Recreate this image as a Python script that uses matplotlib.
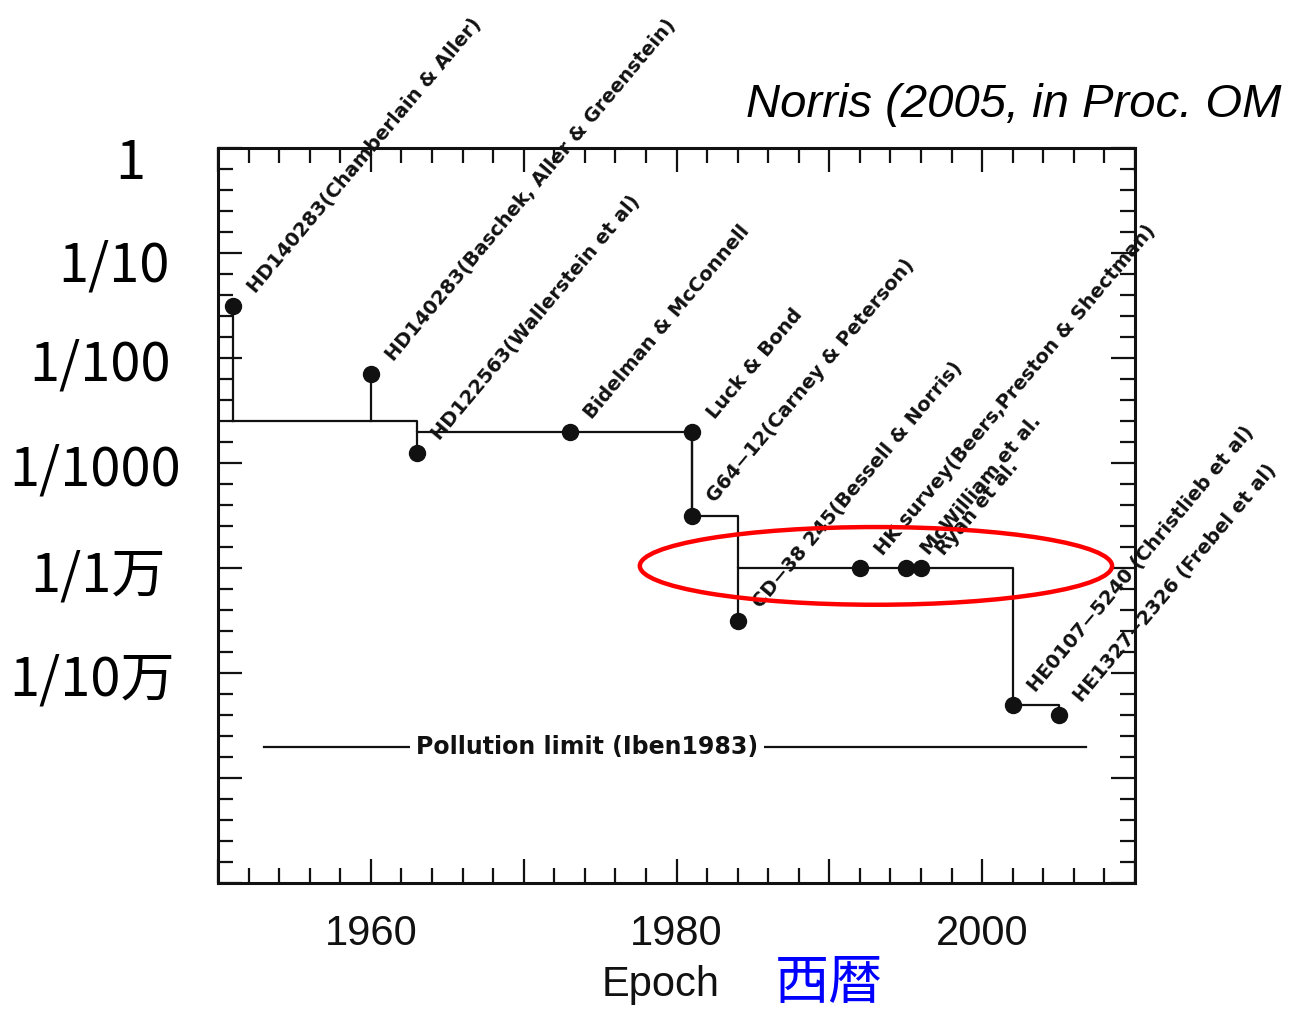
import numpy as np
import matplotlib
matplotlib.use("Agg")
import matplotlib.pyplot as plt
from matplotlib.patches import Ellipse
from matplotlib.ticker import MultipleLocator, FuncFormatter

plt.rcParams['font.family'] = ['Liberation Sans', 'Noto Sans CJK JP', 'DejaVu Sans']

# Record-holding metal-poor stars: epoch of analysis and [Fe/H]
years = [1951, 1960, 1963, 1973, 1981, 1981, 1984, 1992, 1995, 1996, 2002, 2005]
feh = [-1.5, -2.15, -2.9, -2.7, -2.7, -3.5, -4.5, -4.0, -4.0, -4.0, -5.3, -5.4]
star_labels = [
    "HD140283(Chamberlain & Aller)",
    "HD140283(Baschek, Aller & Greenstein)",
    "HD122563(Wallerstein et al)",
    "Bidelman & McConnell",
    "Luck & Bond",
    "G64\u221212(Carney & Peterson)",
    "CD\u221238 245(Bessell & Norris)",
    "HK survey(Beers,Preston & Shectman)",
    "McWilliam et al.",
    "Ryan et al.",
    "HE0107\u22125240 (Christlieb et al)",
    "HE1327\u22122326 (Frebel et al)",
]

# Lowest known [Fe/H] as a function of epoch (modern values)
record_years = [1951, 1963, 1981, 1984, 2002, 2005]
record_feh = [-2.6, -2.7, -3.5, -4.0, -5.3, -5.4]

# Pollution limit of Iben (1983)
pollution_feh = -5.7
pollution_span = [1953.0, 2006.8]
pollution_text = "Pollution limit (Iben1983)"

# Fraction of solar metallicity
fraction_labels = ["1", "1/10", "1/100", "1/1000", "1/1万", "1/10万"]
fraction_feh = [0, -1, -2, -3, -4, -5]

xtick_labels = {1960: "1960", 1980: "1980", 2000: "2000"}

# Highlighted region: the -4 plateau
plateau_center = (1993.05, -3.98)
plateau_size = (30.9, 0.74)

W, H = 1289, 1013
fig = plt.figure(figsize=(W / 100, H / 100), dpi=100)
ax = fig.add_axes([218 / W, 1 - 883 / H, (1135 - 218) / W, (883 - 148) / H])
ax.set_xlim(1950, 2010)
ax.set_ylim(-7, 0)

ink = "#111111"
lw = 1.6

# envelope of the lowest known metallicity
ax.plot(record_years, record_feh, drawstyle="steps-post", color=ink, lw=lw, zorder=2)

# connect each star to the envelope value at its epoch
ry = np.array(record_years)
for x, y in zip(years, feh):
    env = record_feh[max(np.searchsorted(ry, x, side="right") - 1, 0)]
    ax.plot([x, x], [y, env], color=ink, lw=lw, zorder=2)

ax.plot(years, feh, "o", color=ink, ms=11.5, zorder=3)

for x, y, s in zip(years, feh, star_labels):
    ax.annotate(s, (x, y), xytext=(16.5, 8.5), textcoords="offset points",
                rotation=50, rotation_mode="anchor", ha="left", va="baseline",
                fontsize=14, fontweight="bold", family="DejaVu Sans", color=ink)

# pollution limit
ax.plot(pollution_span, [pollution_feh, pollution_feh], color=ink, lw=lw, zorder=2)
ax.text(np.mean([1962.9, 1985.4]), pollution_feh, pollution_text, ha="center",
        va="center", fontsize=17, fontweight="bold", family="DejaVu Sans",
        color=ink, zorder=3,
        bbox=dict(fc="white", ec="none", pad=4))

# highlight ellipse
ax.add_patch(Ellipse(plateau_center, plateau_size[0], plateau_size[1], fill=False,
                     ec="#ff0000", lw=3.2, zorder=6, clip_on=False))

# frame and ticks
for sp in ax.spines.values():
    sp.set_linewidth(2.2)
    sp.set_color(ink)
ax.xaxis.set_major_locator(MultipleLocator(10))
ax.xaxis.set_minor_locator(MultipleLocator(2))
ax.yaxis.set_major_locator(MultipleLocator(1))
ax.yaxis.set_minor_locator(MultipleLocator(0.2))
ax.tick_params(which="both", direction="in", top=True, right=True, color=ink)
ax.tick_params(which="major", length=17, width=1.6)
ax.tick_params(which="minor", length=11, width=1.6)
ax.tick_params(axis="y", labelleft=False)
ax.tick_params(axis="x", labelsize=30, pad=22, labelcolor=ink)
ax.xaxis.set_major_formatter(FuncFormatter(lambda v, p: xtick_labels.get(int(round(v)), "")))

# fraction labels on the left
centers_px = [130, 114, 100, 95, 98, 92]
label_shift = [-0.15, -0.12, -0.07, -0.07, -0.08, -0.07]
for lab, yv, cx, dy in zip(fraction_labels, fraction_feh, centers_px, label_shift):
    ax.text((cx - 218) / 917, yv + dy, lab, transform=ax.get_yaxis_transform(),
            ha="center", va="center", fontsize=39, family=["Noto Sans CJK JP"],
            color="black", clip_on=False)

fig.text(661 / W, 1 - 985 / H, "Epoch", ha="center", va="center", fontsize=30,
         color=ink)
fig.text(829 / W, 1 - 983 / H, "西暦", ha="center", va="center", fontsize=39,
         color="#0000ff", family=["Noto Sans CJK JP"])
fig.text(746 / W, 1 - 117 / H, "Norris (2005, in Proc. OM", ha="left",
         va="baseline", fontsize=34, style="italic", color="black")

fig.savefig("out.png", dpi=100, facecolor="white")
